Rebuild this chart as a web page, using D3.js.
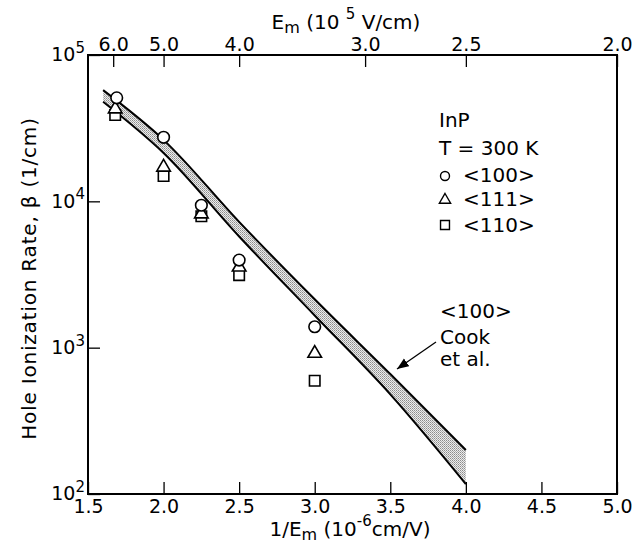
<!DOCTYPE html>
<html>
<head>
<meta charset="utf-8">
<script src="https://cdn.jsdelivr.net/npm/d3@7"></script>
<style>
  body { margin: 0; background: #fff; }
  svg text { font-family: "DejaVu Sans", sans-serif; fill: #000; }
</style>
</head>
<body>
<div id="chart"></div>
<script>
// measured points, x = 1/Em (1e-6 cm/V), y = beta (1/cm)
var invE100 = [1.69, 2.0, 2.25, 2.5, 3.0];
var beta100 = [51000, 27400, 9400, 3970, 1390];
var invE111 = [1.68, 2.0, 2.25, 2.5, 3.0];
var beta111 = [42800, 17100, 8200, 3550, 914];
var invE110 = [1.68, 2.0, 2.25, 2.5, 3.0];
var beta110 = [38900, 14900, 7900, 3130, 594];

// Cook et al. <100> band
var bandX = [1.6, 2.0, 2.5, 3.0, 3.5, 4.0];
var bandUpper = [57500, 26300, 7240, 2140, 660, 200];
var bandLower = [47900, 21400, 5750, 1660, 480, 117];

// tick labels
var xTicks = [1.5, 2.0, 2.5, 3.0, 3.5, 4.0, 4.5, 5.0];
var emTicks = [6.0, 5.0, 4.0, 3.0, 2.5, 2.0];
var yTicks = [100, 1000, 10000, 100000];

var W = 639, H = 546;
var margin = {top: 55, right: 22, bottom: 52, left: 88};

var svg = d3.select("#chart").append("svg")
  .attr("width", W).attr("height", H);

var x = d3.scaleLinear().domain([1.5, 5.0]).range([margin.left, W - margin.right]);
var y = d3.scaleLog().domain([100, 100000]).range([H - margin.bottom, margin.top]);

// stipple pattern for the band
var defs = svg.append("defs");
var pat = defs.append("pattern").attr("id", "stip")
  .attr("width", 2).attr("height", 2).attr("patternUnits", "userSpaceOnUse");
pat.append("rect").attr("width", 2).attr("height", 2).attr("fill", "#ececec");
pat.append("rect").attr("width", 1).attr("height", 1).attr("fill", "#8c8c8c");
pat.append("rect").attr("x", 1).attr("y", 1).attr("width", 1).attr("height", 1).attr("fill", "#acacac");

var up = bandX.map(function(v, i){ return [x(v), y(bandUpper[i])]; });
var lo = bandX.map(function(v, i){ return [x(v), y(bandLower[i])]; });
var curve = d3.line().curve(d3.curveMonotoneX);

var area = d3.area().curve(d3.curveMonotoneX)
  .x(function(d){ return x(d); })
  .y0(function(d, i){ return y(bandLower[i]); })
  .y1(function(d, i){ return y(bandUpper[i]); });
svg.append("path").datum(bandX).attr("d", area).attr("fill", "url(#stip)");
svg.append("path").attr("d", curve(up)).attr("fill", "none").attr("stroke", "#000").attr("stroke-width", 2);
svg.append("path").attr("d", curve(lo)).attr("fill", "none").attr("stroke", "#000").attr("stroke-width", 2);

// frame
svg.append("rect")
  .attr("x", margin.left).attr("y", margin.top)
  .attr("width", W - margin.left - margin.right)
  .attr("height", H - margin.top - margin.bottom)
  .attr("fill", "none").attr("stroke", "#000").attr("stroke-width", 2);

// bottom axis
var gx = svg.append("g").attr("transform", "translate(0," + (H - margin.bottom) + ")")
  .call(d3.axisBottom(x).tickValues(xTicks).tickFormat(d3.format(".1f"))
    .tickSizeInner(-12).tickSizeOuter(0).tickPadding(6));
// top axis (Em)
var gt = svg.append("g").attr("transform", "translate(0," + margin.top + ")")
  .call(d3.axisTop(x).tickValues(emTicks.map(function(e){ return 10 / e; }))
    .tickFormat(function(v){ return d3.format(".1f")(10 / v); })
    .tickSizeInner(-12).tickSizeOuter(0).tickPadding(4));
// left axis
var gy = svg.append("g").attr("transform", "translate(" + margin.left + ",0)")
  .call(d3.axisLeft(y).tickValues(yTicks).tickSizeInner(-12).tickSizeOuter(0).tickPadding(3));

[gx, gt, gy].forEach(function(g){
  g.select(".domain").remove();
  g.selectAll("line").attr("stroke", "#000").attr("stroke-width", 1.3);
  g.selectAll("text").attr("font-size", 19).attr("font-family", "DejaVu Sans");
});

gy.selectAll(".tick text").each(function(d){
  var t = d3.select(this).text("");
  t.attr("dy", "0.3em");
  t.append("tspan").text("10");
  t.append("tspan").attr("dy", "-0.55em").attr("font-size", 15).text(Math.round(Math.log10(d)));
});

// axis titles
var tt = svg.append("text").attr("x", 346).attr("y", 29).attr("text-anchor", "middle").attr("font-size", 20);
tt.append("tspan").text("E");
tt.append("tspan").attr("font-size", 16).attr("dy", 4).text("m");
tt.append("tspan").attr("dy", -4).text(" (10 ");
tt.append("tspan").attr("font-size", 15).attr("dy", -10).text("5");
tt.append("tspan").attr("dy", 10).text(" V/cm)");

var bt = svg.append("text").attr("x", 350).attr("y", 536).attr("text-anchor", "middle").attr("font-size", 20);
bt.append("tspan").text("1/E");
bt.append("tspan").attr("font-size", 16).attr("dy", 4).text("m");
bt.append("tspan").attr("dy", -4).text(" (10");
bt.append("tspan").attr("font-size", 15).attr("dy", -10).text("-6");
bt.append("tspan").attr("dy", 10).text("cm/V)");

svg.append("text")
  .attr("transform", "translate(36," + ((margin.top + H - margin.bottom) / 2 + 4) + ") rotate(-90)")
  .attr("text-anchor", "middle").attr("font-size", 20).attr("letter-spacing", 0.8)
  .text("Hole Ionization Rate,  \u03b2 (1/cm)");

// markers
var sq = d3.symbol().type(d3.symbolSquare).size(110);
var tri = d3.symbol().type(d3.symbolTriangle).size(80);

function pts(xs, ys){ return xs.map(function(v, i){ return [v, ys[i]]; }); }

svg.append("g").selectAll("path").data(pts(invE110, beta110)).enter().append("path")
  .attr("d", sq).attr("transform", function(d){ return "translate(" + x(d[0]) + "," + y(d[1]) + ")"; })
  .attr("fill", "#fff").attr("stroke", "#000").attr("stroke-width", 1.6);
svg.append("g").selectAll("path").data(pts(invE111, beta111)).enter().append("path")
  .attr("d", tri).attr("transform", function(d){ return "translate(" + x(d[0]) + "," + y(d[1]) + ")"; })
  .attr("fill", "#fff").attr("stroke", "#000").attr("stroke-width", 1.6);
svg.append("g").selectAll("circle").data(pts(invE100, beta100)).enter().append("circle")
  .attr("cx", function(d){ return x(d[0]); }).attr("cy", function(d){ return y(d[1]); }).attr("r", 5.8)
  .attr("fill", "#fff").attr("stroke", "#000").attr("stroke-width", 1.6);

// legend
var lg = svg.append("g").attr("font-size", 20);
lg.append("text").attr("x", 439).attr("y", 127).text("InP");
lg.append("text").attr("x", 439).attr("y", 155).text("T = 300 K");
lg.append("circle").attr("cx", 445).attr("cy", 176).attr("r", 4.5).attr("fill", "#fff").attr("stroke", "#000").attr("stroke-width", 1.4);
lg.append("path").attr("d", d3.symbol().type(d3.symbolTriangle).size(55)).attr("transform", "translate(445,200)")
  .attr("fill", "#fff").attr("stroke", "#000").attr("stroke-width", 1.4);
lg.append("path").attr("d", d3.symbol().type(d3.symbolSquare).size(80)).attr("transform", "translate(445,225)")
  .attr("fill", "#fff").attr("stroke", "#000").attr("stroke-width", 1.4);
lg.append("text").attr("x", 463).attr("y", 182).text("<100>");
lg.append("text").attr("x", 463).attr("y", 206).text("<111>");
lg.append("text").attr("x", 463).attr("y", 232).text("<110>");

// Cook et al. note
var ng = svg.append("g").attr("font-size", 20);
ng.append("text").attr("x", 440).attr("y", 318).text("<100>");
ng.append("text").attr("x", 440).attr("y", 344).text("Cook");
ng.append("text").attr("x", 440).attr("y", 366).text("et al.");
defs.append("marker").attr("id", "ah").attr("viewBox", "0 0 10 10").attr("refX", 10).attr("refY", 5)
  .attr("markerWidth", 9).attr("markerHeight", 9).attr("orient", "auto")
  .append("path").attr("d", "M0,1L10,5L0,9Z").attr("fill", "#000");
svg.append("line").attr("x1", 436).attr("y1", 342).attr("x2", 397).attr("y2", 369)
  .attr("stroke", "#000").attr("stroke-width", 1.3).attr("marker-end", "url(#ah)");
</script>
</body>
</html>
